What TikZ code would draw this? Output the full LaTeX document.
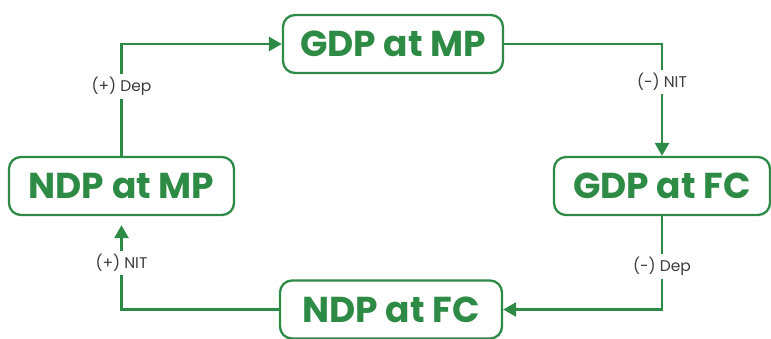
\documentclass[tikz,border=0pt]{standalone}
\usepackage{fontspec}
\setmainfont{Poppins}
\usetikzlibrary{arrows.meta}
\definecolor{gg}{RGB}{46,139,70}
\definecolor{lbl}{RGB}{60,60,60}
\tikzset{
  box/.style={draw=gg, line width=2.3pt, rounded corners=12pt, minimum height=58pt, text=gg, font=\fontsize{36}{40}\selectfont\bfseries, inner sep=0pt},
  conn/.style={draw=gg, line width=2.6pt, -{Triangle[length=13pt,width=14pt]}},
  lab/.style={fill=white, text=lbl, font=\fontsize{15.5}{18}\selectfont, inner sep=3pt}
}
\begin{document}
\begin{tikzpicture}[x=1pt,y=-1pt]
\useasboundingbox (0,0) rectangle (771,338);
\node[box, minimum width=220pt] (gmp) at (393,44) {GDP at MP};
\node[box, minimum width=216pt] (gfc) at (662,186) {GDP at FC};
\node[box, minimum width=222pt] (nfc) at (391,309.5) {NDP at FC};
\node[box, minimum width=225pt] (nmp) at (121.5,186) {NDP at MP};
\draw[conn] (nmp.north) |- node[lab, pos=0.31] {(+) Dep} (gmp.west);
\draw[conn] (gmp.east) -| node[lab, pos=0.67] {(-) NIT} (gfc.north);
\draw[conn] (gfc.south) |- node[lab, pos=0.27] {(-) Dep} (nfc.east);
\draw[conn, shorten >=9pt] (nfc.west) -| node[lab, pos=0.75] {(+) NIT} (nmp.south);
\end{tikzpicture}
\end{document}
